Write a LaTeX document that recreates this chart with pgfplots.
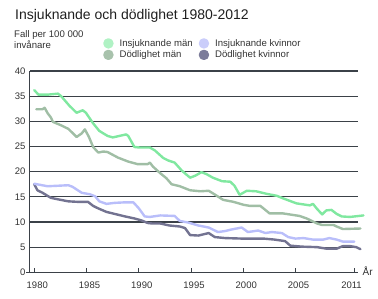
\documentclass[border=0pt]{standalone}
\usepackage{fontspec}
\setmainfont{Liberation Sans}
\usepackage{pgfplots}
\pgfplotsset{compat=1.18}

\definecolor{gridc}{HTML}{3B4148}
\definecolor{txt}{HTML}{333333}
\definecolor{imline}{HTML}{80E8A0}
\definecolor{dmline}{HTML}{A0BEA5}
\definecolor{ikline}{HTML}{B9BEFA}
\definecolor{dkline}{HTML}{737391}
\definecolor{imleg}{HTML}{B0F2C4}
\definecolor{dmleg}{HTML}{A8C2AC}
\definecolor{ikleg}{HTML}{CACDFA}
\definecolor{dkleg}{HTML}{7C7C9A}

\begin{document}
\begin{tikzpicture}
\useasboundingbox (0,0) rectangle (378pt,298pt);

% title and unit text
\node[anchor=base west, inner sep=0pt, text=black!88, font=\fontsize{14}{16}\selectfont]
  at (15pt,278.5pt) {Insjuknande och dödlighet 1980-2012};
\node[anchor=base west, inner sep=0pt, text=txt, align=left, font=\fontsize{9.6}{11.7}\selectfont]
  at (14pt,249pt) {Fall per 100 000\\invånare};

\begin{axis}[
  scale only axis,
  width=328pt, height=201.3pt,
  at={(30pt,25.7pt)}, anchor=south west,
  xmin=1979.59, xmax=2010.98,
  ymin=0, ymax=40,
  clip=false,
  axis x line=bottom, axis y line=left,
  axis line style={-, gridc, line width=1pt},
  x axis line style={shorten <=-4pt},
  ytick={0,5,...,40},
  xtick={1980,1985,1990,1995,2000,2005,2010.6},
  xticklabels={1980,1985,1990,1995,2000,2005,\hspace*{-11pt}2011},
  tick align=inside,
  major tick length=4pt,
  x tick style={gridc, line width=1pt},
  y tick style={draw=none},
  ymajorgrids,
  grid style={gridc, line width=1.1pt},
  tick label style={font=\fontsize{9.5}{11}\selectfont, text=txt},
  x tick label style={xshift=3pt, yshift=-6pt},
  y tick label style={xshift=-1pt},
  /pgf/number format/assume math mode=true,
  legend columns=2,
  legend cell align=left,
  legend style={at={(0.2226,1.169)}, anchor=north west, draw=none, fill=none,
    inner sep=0pt, text=txt, font=\fontsize{9.6}{11}\selectfont,
    column sep=4pt, row sep=-1pt},
  every axis plot/.append style={line width=2.4pt, line join=round, line cap=round},
]

\addlegendimage{legend image code/.code={\fill[imleg] (4pt,0pt) circle (4pt);}}
\addlegendentry{Insjuknande män}
\addlegendimage{legend image code/.code={\fill[ikleg] (4pt,0pt) circle (4pt);}}
\addlegendentry{Insjuknande kvinnor}
\addlegendimage{legend image code/.code={\fill[dmleg] (4pt,0pt) circle (4pt);}}
\addlegendentry{Dödlighet män}
\addlegendimage{legend image code/.code={\fill[dkleg] (4pt,0pt) circle (4pt);}}
\addlegendentry{Dödlighet kvinnor}

% Dödlighet kvinnor
\addplot[dkline, forget plot] coordinates {
(1980.00,17.5) (1980.30,16.3) (1980.79,15.8) (1981.58,14.8) (1982.27,14.5)
(1983.26,14.1) (1984.15,14.0) (1985.14,14.0) (1985.63,13.2) (1986.12,12.7)
(1986.91,12.0) (1987.70,11.6) (1988.69,11.1) (1989.58,10.7) (1990.27,10.3)
(1990.86,9.8) (1991.26,9.7) (1992.05,9.7) (1992.94,9.3) (1993.93,9.1)
(1994.42,8.8) (1994.91,7.4) (1995.70,7.3) (1996.69,7.8) (1997.28,7.0)
(1998.27,6.8) (1999.85,6.7) (2001.93,6.7) (2003.00,6.5) (2004.00,6.2)
(2004.50,5.3) (2005.58,5.1) (2007.06,5.0) (2007.95,4.7) (2008.94,4.7)
(2009.53,5.2) (2010.22,5.2) (2010.81,5.0) (2011.21,4.6)
};

% Insjuknande kvinnor
\addplot[ikline, forget plot] coordinates {
(1980.00,17.6) (1980.50,17.4) (1981.28,17.1) (1982.27,17.2) (1983.26,17.3)
(1983.65,17.0) (1984.54,15.8) (1985.33,15.5) (1985.83,15.1) (1986.22,14.1)
(1986.91,13.6) (1987.70,13.8) (1988.69,13.9) (1989.48,13.9) (1989.97,12.8)
(1990.57,11.1) (1991.06,11.0) (1992.05,11.3) (1993.43,11.2) (1993.93,10.2)
(1994.71,9.9) (1995.70,9.3) (1996.69,8.9) (1997.58,8.0) (1998.27,8.2)
(1998.86,8.5) (1999.85,8.9) (2000.44,8.0) (2001.43,8.3) (2002.12,7.8)
(2002.72,8.0) (2003.70,7.8) (2004.30,7.0) (2004.99,6.7) (2005.78,6.8)
(2006.67,6.5) (2007.65,6.5) (2008.24,6.8) (2008.94,6.5) (2009.53,6.1)
(2010.62,6.1)
};

% Dödlighet män
\addplot[dmline, forget plot] coordinates {
(1980.20,32.4) (1980.79,32.4) (1980.99,32.7) (1981.28,31.6) (1981.58,30.8)
(1981.78,29.9) (1982.57,29.2) (1983.26,28.5) (1984.05,26.9) (1984.54,27.6)
(1984.84,28.4) (1985.23,26.9) (1985.63,24.9) (1986.12,23.8) (1986.62,24.0)
(1987.01,23.9) (1988.00,22.8) (1988.99,22.0) (1989.88,21.5) (1990.86,21.5)
(1991.06,21.8) (1991.36,21.0) (1992.05,19.7) (1992.64,18.7) (1993.14,17.5)
(1993.93,17.1) (1994.91,16.3) (1995.90,16.1) (1996.69,16.2) (1997.09,15.7)
(1998.07,14.4) (1999.06,14.0) (2000.05,13.4) (2000.64,13.2) (2001.63,13.2)
(2001.93,12.7) (2002.52,11.7) (2003.80,11.7) (2005.38,11.2) (2006.07,10.7)
(2007.06,9.7) (2007.55,9.4) (2008.64,9.4) (2008.94,9.1) (2009.53,8.6)
(2011.21,8.7)
};

% Insjuknande män
\addplot[imline, forget plot] coordinates {
(1980.00,36.2) (1980.40,35.3) (1981.28,35.3) (1982.27,35.5) (1982.57,35.0)
(1983.36,33.1) (1984.05,31.7) (1984.64,32.2) (1984.94,31.7) (1985.63,29.6)
(1986.22,28.1) (1987.01,27.1) (1987.51,26.8) (1988.79,27.4) (1988.99,27.1)
(1989.58,24.9) (1990.07,24.8) (1991.06,24.8) (1991.55,24.2) (1992.35,22.7)
(1992.84,22.2) (1993.43,21.8) (1994.12,20.2) (1994.91,18.8) (1995.41,19.2)
(1996.00,19.9) (1996.49,19.5) (1997.09,18.8) (1997.97,18.1) (1998.76,18.0)
(1999.16,17.2) (1999.65,15.4) (2000.34,16.2) (2001.23,16.1) (2002.22,15.6)
(2003.21,15.2) (2003.80,14.7) (2005.09,13.7) (2006.37,13.3) (2006.67,13.6)
(2007.06,12.6) (2007.55,11.5) (2007.95,12.3) (2008.44,12.4) (2008.94,11.6)
(2009.43,11.1) (2010.22,11.0) (2011.50,11.3)
};

\node[anchor=base west, inner sep=0pt, text=txt, font=\fontsize{10}{12}\selectfont]
  at (rel axis cs:1,0) [xshift=4.5pt, yshift=-2.7pt] {År};
\end{axis}
\end{tikzpicture}
\end{document}
